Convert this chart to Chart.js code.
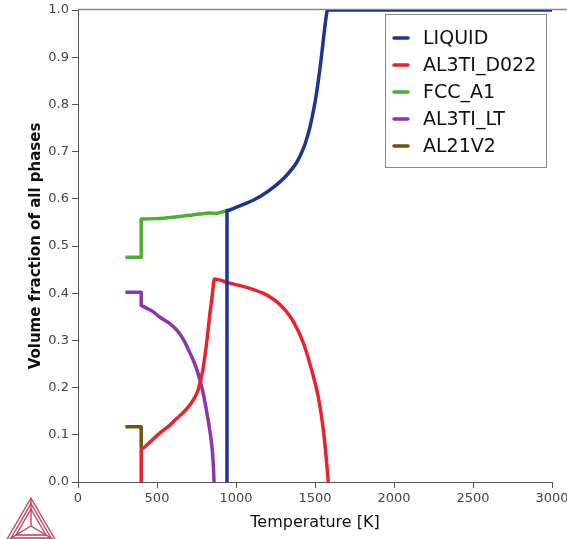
<!DOCTYPE html>
<html>
<head>
<meta charset="utf-8">
<script src="https://cdn.jsdelivr.net/npm/chart.js@4/dist/chart.umd.min.js"></script>
<style>
html,body{margin:0;padding:0;background:#fff;}
#wrap{width:567px;height:539px;position:relative;}
</style>
</head>
<body>
<div id="wrap"><canvas id="c" width="567" height="539"></canvas></div>
<script>
// ---- data ----
const xTicks = [0, 500, 1000, 1500, 2000, 2500, 3000];
const yTicks = [0.0, 0.1, 0.2, 0.3, 0.4, 0.5, 0.6, 0.7, 0.8, 0.9, 1.0];

const seriesNames = ['LIQUID', 'AL3TI_D022', 'FCC_A1', 'AL3TI_LT', 'AL21V2'];

const liquidT = [943, 943, 1000, 1060, 1108, 1163, 1236, 1321, 1384, 1410, 1437, 1468, 1500, 1521, 1542, 1559, 1574, 1580, 3000];
const liquidV = [0.0, 0.575, 0.582, 0.590, 0.597, 0.607, 0.624, 0.650, 0.677, 0.694, 0.716, 0.752, 0.804, 0.850, 0.905, 0.955, 0.993, 1.0, 1.0];

const d022T = [400, 400, 450, 519, 580, 627, 680, 728, 760, 790, 816, 835, 848, 856, 862, 962, 1050, 1171, 1220, 1278, 1363, 1426, 1479, 1521, 1553, 1574, 1584];
const d022V = [0.0, 0.070, 0.083, 0.104, 0.120, 0.135, 0.152, 0.173, 0.195, 0.237, 0.300, 0.357, 0.391, 0.415, 0.430, 0.421, 0.414, 0.400, 0.391, 0.376, 0.340, 0.295, 0.237, 0.180, 0.110, 0.040, 0.0];

const fccT = [300, 400, 400, 500, 600, 700, 800, 840, 870, 900, 943];
const fccV = [0.476, 0.476, 0.557, 0.558, 0.561, 0.565, 0.569, 0.570, 0.569, 0.571, 0.575];

const ltT = [300, 400, 400, 411, 470, 519, 575, 627, 670, 709, 745, 772, 795, 816, 833, 848, 856, 861];
const ltV = [0.402, 0.402, 0.374, 0.372, 0.362, 0.349, 0.337, 0.321, 0.300, 0.273, 0.245, 0.216, 0.184, 0.146, 0.112, 0.074, 0.040, 0.0];

const v2T = [300, 400, 400];
const v2V = [0.117, 0.117, 0.072];

const colors = ['#1c3591', '#e8232d', '#4bae35', '#8c35ad', '#6b5508'];

function pts(xs, ys) { return xs.map((x, i) => ({x: x, y: ys[i]})); }
const allSeries = [[liquidT, liquidV], [d022T, d022V], [fccT, fccV], [ltT, ltV], [v2T, v2V]];

const datasets = allSeries.map((s, i) => ({
  label: seriesNames[i],
  data: pts(s[0], s[1]),
  borderColor: colors[i],
  backgroundColor: colors[i],
  borderWidth: 3.5,
  pointRadius: 0,
  showLine: true,
  cubicInterpolationMode: 'monotone',
  borderJoinStyle: 'round',
  clip: {left: 5, right: 5, top: 0, bottom: 5}
}));

const AXIS_COLOR = '#555';
const TICK_COLOR = '#444';

const decorPlugin = {
  id: 'decor',
  beforeDatasetsDraw(chart) {
    const {ctx, chartArea: a} = chart;
    ctx.save();
    ctx.strokeStyle = '#888';
    ctx.lineWidth = 1.5;
    ctx.beginPath();
    ctx.moveTo(a.left, a.top - 0.5);
    ctx.lineTo(chart.width, a.top - 0.5);
    ctx.stroke();
    ctx.restore();
  },
  afterDraw(chart) {
    const {ctx} = chart;
    ctx.save();
    // legend box
    const bx = 385.5, by = 14.5, bw = 161, bh = 153;
    ctx.fillStyle = '#fff';
    ctx.fillRect(bx, by, bw, bh);
    ctx.strokeStyle = '#888';
    ctx.lineWidth = 1;
    ctx.strokeRect(bx, by, bw, bh);
    const rows = [38, 65, 92, 119, 146];
    ctx.font = '19px "DejaVu Sans", sans-serif';
    ctx.textBaseline = 'middle';
    ctx.textAlign = 'left';
    chart.data.datasets.forEach((ds, i) => {
      const y = rows[i];
      ctx.strokeStyle = ds.borderColor;
      ctx.lineWidth = 3.5;
      ctx.lineCap = 'round';
      ctx.beginPath();
      ctx.moveTo(394, y);
      ctx.lineTo(408, y);
      ctx.stroke();
      ctx.fillStyle = '#111';
      ctx.fillText(ds.label, 423, y + 1);
    });
    // logo (triangle mark)
    ctx.strokeStyle = '#c8385e';
    ctx.lineWidth = 1.3;
    ctx.lineCap = 'butt';
    const A = [31, 498], B = [6, 541], C = [56, 541];
    const cx = 31, cy = 526;
    function tri(p, q, r) { ctx.beginPath(); ctx.moveTo(p[0], p[1]); ctx.lineTo(q[0], q[1]); ctx.lineTo(r[0], r[1]); ctx.closePath(); ctx.stroke(); }
    tri(A, B, C);
    const shrink = (p, k) => [cx + (p[0] - cx) * k, cy + (p[1] - cy) * k];
    tri(shrink(A, 0.8), shrink(B, 0.8), shrink(C, 0.8));
    tri(shrink(A, 0.6), shrink(B, 0.6), shrink(C, 0.6));
    ctx.beginPath();
    [A, B, C].forEach(p => { ctx.moveTo(p[0], p[1]); ctx.lineTo(cx, cy); });
    ctx.stroke();
    ctx.restore();
  }
};

new Chart(document.getElementById('c'), {
  type: 'scatter',
  data: {datasets: datasets},
  plugins: [decorPlugin],
  options: {
    responsive: false,
    animation: false,
    devicePixelRatio: 1,
    layout: {padding: {top: 10, right: 15, left: 0, bottom: 0}},
    plugins: {legend: {display: false}, tooltip: {enabled: false}},
    scales: {
      x: {
        type: 'linear',
        min: xTicks[0], max: xTicks[xTicks.length - 1],
        afterBuildTicks(scale) { scale.ticks = xTicks.map(v => ({value: v})); },
        afterFit(scale) { scale.height = 57; scale.paddingLeft = 0; scale.paddingRight = 0; },
        border: {display: true, color: AXIS_COLOR, width: 1},
        grid: {display: true, drawOnChartArea: false, drawTicks: true, tickLength: 6, color: AXIS_COLOR},
        ticks: {color: TICK_COLOR, font: {family: '"DejaVu Sans", sans-serif', size: 13}, padding: 3, maxRotation: 0, autoSkip: false, callback: v => String(v)},
        title: {display: true, text: 'Temperature [K]', color: '#111', font: {family: '"DejaVu Sans", sans-serif', size: 16}, padding: {top: 0, bottom: 7}}
      },
      y: {
        type: 'linear',
        min: yTicks[0], max: yTicks[yTicks.length - 1],
        afterBuildTicks(scale) { scale.ticks = yTicks.map(v => ({value: v})); },
        afterFit(scale) { scale.width = 78; scale.paddingTop = 0; scale.paddingBottom = 0; },
        border: {display: true, color: AXIS_COLOR, width: 1},
        grid: {display: true, drawOnChartArea: false, drawTicks: true, tickLength: 6, color: AXIS_COLOR},
        ticks: {color: TICK_COLOR, font: {family: '"DejaVu Sans", sans-serif', size: 13}, padding: 3, callback: v => Number(v).toFixed(1), autoSkip: false},
        title: {display: true, text: 'Volume fraction of all phases', color: '#111', font: {family: '"DejaVu Sans", sans-serif', size: 15, weight: 'bold'}, padding: {top: 27, bottom: 0}}
      }
    }
  }
});
</script>
</body>
</html>
